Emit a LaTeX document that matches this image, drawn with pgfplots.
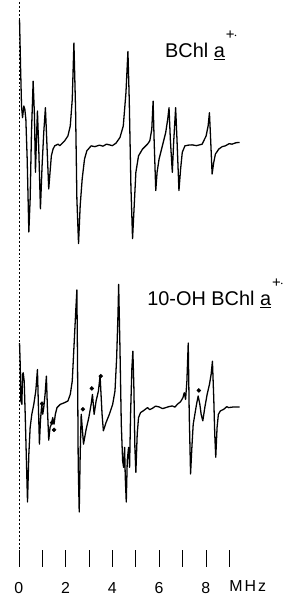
\documentclass[border=0pt]{standalone}
\usepackage{fontspec}
\setmainfont{Liberation Sans}
\usepackage{pgfplots}
\pgfplotsset{compat=1.18}
\begin{document}
\begin{tikzpicture}
\begin{axis}[
  scale only axis, width=294pt, height=553pt,
  xmin=-0.8085, xmax=11.702, ymin=0, ymax=553, y dir=reverse,
  axis x line=bottom, axis y line=none, x axis line style={draw=none},
  xtick={0,...,9}, xticklabels={0,,2,,4,,6,,8,},
  tick align=outside, major tick length=17pt,
  tick style={line width=0.6pt, black},
  xticklabel style={font=\fontsize{16}{16}\selectfont, anchor=base, yshift=-27pt},
  /pgf/number format/assume math mode=true,
  clip=false,
]
% dashed zero line
\addplot[black, line width=0.5pt, dash pattern=on 2pt off 2pt] coordinates {(0,2) (0,553)};
% top trace: BChl a+
\addplot[black, line width=1.3pt, line join=round] coordinates {
(0.028,20) (0.071,66.7) (0.113,106.7) (0.156,118.3) (0.213,106.7) (0.255,110) (0.298,120)
(0.355,160) (0.426,233.3) (0.482,200) (0.539,133.3) (0.610,81.7) (0.667,116.7) (0.709,173.3)
(0.752,140) (0.794,111.7) (0.851,150) (0.922,210) (0.993,166.7) (1.064,133.3) (1.135,108.3)
(1.191,140) (1.277,190) (1.333,173.3) (1.390,156.7) (1.461,150) (1.532,146.7) (1.674,145)
(1.75,146.5) (1.816,145) (1.957,141.7) (2.099,136.7) (2.199,126.7) (2.284,100) (2.355,43.3)
(2.426,110) (2.482,200) (2.553,245) (2.624,206.7) (2.709,180) (2.809,160) (2.908,151.7)
(3.092,146.7) (3.25,147.5) (3.447,146) (3.6,147) (3.75,145) (3.872,145.7) (4.0,146.5)
(4.156,144) (4.326,138.3) (4.468,126.7) (4.582,93.3) (4.667,51.7) (4.723,100) (4.794,186.7)
(4.865,240) (4.936,206.7) (5.007,173.3) (5.121,156.7) (5.291,150) (5.504,145) (5.603,141.7)
(5.688,130) (5.745,101.7) (5.787,140) (5.858,191.7) (5.915,173.3) (6.000,160) (6.142,146.7)
(6.284,133.3) (6.369,120) (6.426,108.3) (6.482,140) (6.567,173.3) (6.624,143.3) (6.709,108.3)
(6.766,140) (6.851,191.7) (6.922,170) (6.993,153.3) (7.106,146.7) (7.25,146) (7.418,145.7)
(7.6,146.5) (7.844,145) (8.014,136.7) (8.099,126.7) (8.156,113.3) (8.213,143.3) (8.270,175)
(8.340,163.3) (8.411,155) (8.553,150) (8.7,147.5) (8.837,146.7) (9.0,144.5) (9.121,145)
(9.3,143.5) (9.447,143.3)
};
% bottom trace: 10-OH BChl a+
\addplot[black, line width=1.3pt, line join=round] coordinates {
(0.028,345) (0.057,366.7) (0.085,403.3) (0.128,406.7) (0.156,376.7) (0.184,375) (0.227,383.3)
(0.270,416.7) (0.326,466.7) (0.369,505) (0.426,456.7) (0.482,430) (0.553,416.7) (0.638,406.7)
(0.723,393.3) (0.794,371.7) (0.837,410) (0.879,446.7) (0.922,423.3) (0.979,406.7) (1.021,416.7)
(1.064,410) (1.121,396.7) (1.177,378.3) (1.220,410) (1.277,442.7) (1.333,430) (1.390,426.7)
(1.447,420) (1.504,426.7) (1.560,416.7) (1.631,410) (1.773,406.7) (1.957,405) (2.099,403.3)
(2.199,396.7) (2.284,383.3) (2.369,343.3) (2.440,310) (2.482,291.7) (2.511,366.7) (2.539,466.7)
(2.582,515) (2.624,456.7) (2.667,416.7) (2.766,446.7) (2.879,431.7) (2.993,420) (3.092,406.7)
(3.149,396.7) (3.220,416.7) (3.305,403.3) (3.404,393.3) (3.475,378) (3.560,416.7) (3.617,433.3)
(3.730,425) (3.872,416.7) (4.014,406.7) (4.113,393.3) (4.184,360) (4.241,316.7) (4.270,286)
(4.326,350) (4.383,426.7) (4.440,463.3) (4.482,470) (4.525,450) (4.553,480) (4.596,505)
(4.638,463.3) (4.695,450) (4.738,470) (4.780,416.7) (4.837,370) (4.879,353.3) (4.922,390)
(4.965,450) (5.007,475) (5.064,436.7) (5.121,420) (5.206,415) (5.319,413.3) (5.42,411.5)
(5.504,410) (5.6,412) (5.716,410.7) (5.85,408.5) (6.000,409.3) (6.15,411) (6.284,410)
(6.42,409) (6.567,408.3) (6.68,409.5) (6.780,406.7) (6.922,404) (7.021,400) (7.078,395)
(7.135,401.7) (7.191,383.3) (7.248,345) (7.291,416.7) (7.348,476.7) (7.404,450) (7.461,426.7)
(7.532,416.7) (7.603,406.7) (7.674,398.3) (7.745,406.7) (7.801,416.7) (7.872,423.3) (7.957,410)
(8.057,396.7) (8.156,386.7) (8.227,376.7) (8.284,363.3) (8.340,400) (8.383,436.7) (8.426,460)
(8.482,430) (8.539,416.7) (8.624,413.3) (8.766,411.7) (8.9,409) (8.979,410) (9.191,409.3)
(9.447,409.3)
};
% marked lines
\addplot[only marks, mark=*, mark size=2pt, black] coordinates {
(0.993,406) (1.418,425) (1.504,432.3) (2.738,411.7) (3.121,390.7) (3.504,378.3) (7.702,392.7)
};
\node[anchor=base west, inner sep=0pt, font=\fontsize{20}{20}\selectfont] at (axis cs:6.255,58)
  {BChl \underline{a}\raisebox{18pt}{\fontsize{15}{15}\selectfont\kern1pt+\kern-1pt$\cdot$}};
\node[anchor=base west, inner sep=0pt, font=\fontsize{20}{20}\selectfont] at (axis cs:5.489,307)
  {10-OH BChl \underline{a}\raisebox{18pt}{\fontsize{15}{15}\selectfont\kern1pt+\kern-1pt$\cdot$}};
\node[anchor=base west, inner sep=0pt, font=\fontsize{16}{16}\selectfont] at (axis cs:9.0,595)
  {M\kern2pt H\kern2pt z};
\end{axis}
\path[use as bounding box] (current axis.north west) rectangle ([yshift=-44pt]current axis.south east);
\end{tikzpicture}
\end{document}
